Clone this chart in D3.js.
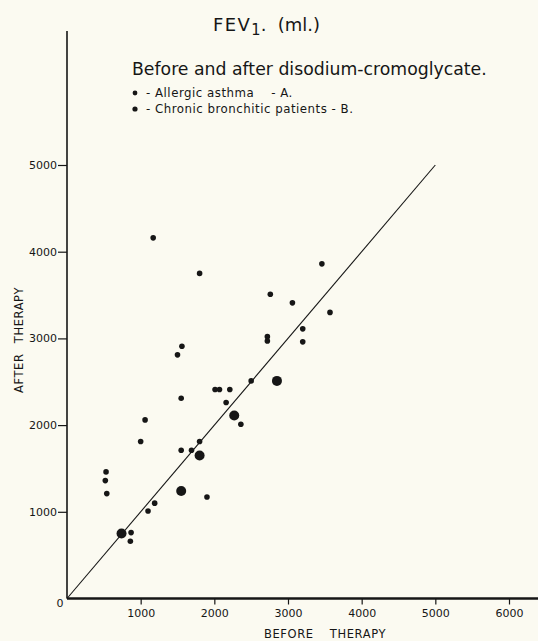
<!DOCTYPE html>
<html>
<head>
<meta charset="utf-8">
<script src="https://cdn.jsdelivr.net/npm/d3@7"></script>
<style>
  html, body { margin: 0; padding: 0; background: #fbfaf1; }
  svg { display: block; }
  text { font-family: "DejaVu Sans", sans-serif; fill: #161616; }
</style>
</head>
<body>
<div id="chart"></div>
<script>
// FEV1 before (x) and after (y) therapy, ml
const allergicAsthma = [
  [1170, 4160], [1800, 3750], [3460, 3860], [2760, 3510], [3060, 3410],
  [3570, 3300], [3200, 3110], [3200, 2960], [2720, 3020], [2720, 2970],
  [1560, 2910], [1500, 2810], [2500, 2510], [2010, 2410], [2070, 2410],
  [2210, 2410], [1550, 2310], [2160, 2260], [2360, 2010], [1060, 2060],
  [1000, 1810], [1800, 1810], [1550, 1710], [1690, 1710], [530, 1460],
  [520, 1360], [540, 1210], [1900, 1170], [1190, 1100], [1100, 1010],
  [870, 760], [860, 660]
];
const chronicBronchitic = [
  [2850, 2510], [2270, 2110], [1800, 1650], [1550, 1240], [740, 750]
];
const identityLine = [[0, 0], [5000, 5000]];
const xTicks = [1000, 2000, 3000, 4000, 5000, 6000];
const yTicks = [1000, 2000, 3000, 4000, 5000];
const legendItems = ["- Allergic asthma    - A.", "- Chronic bronchitic patients - B."];

const width = 538;
const height = 641;
const ink = "#161616";

const svg = d3.select("#chart")
  .append("svg")
  .attr("width", width)
  .attr("height", height);

const x = d3.scaleLinear().domain([0, 6000]).range([67, 509]);
const y = d3.scaleLinear().domain([0, 5000]).range([598.5, 165]);

// axes
const xAxis = svg.append("g")
  .attr("transform", `translate(0,${y(0)})`)
  .call(d3.axisBottom(x).tickValues(xTicks).tickSize(6).tickPadding(5).tickFormat(d3.format("d")));
xAxis.select(".domain").remove();
xAxis.selectAll(".tick line").attr("stroke", ink).attr("stroke-width", 1.2);
xAxis.selectAll(".tick text").attr("font-size", 11).attr("fill", ink);

const yAxis = svg.append("g")
  .attr("transform", `translate(${x(0)},0)`)
  .call(d3.axisLeft(y).tickValues(yTicks).tickSize(9).tickPadding(1).tickFormat(d3.format("d")));
yAxis.select(".domain").remove();
yAxis.selectAll(".tick line").attr("stroke", ink).attr("stroke-width", 1.2);
yAxis.selectAll(".tick text").attr("font-size", 11).attr("fill", ink);

svg.append("line")
  .attr("x1", x(0)).attr("x2", width)
  .attr("y1", y(0)).attr("y2", y(0))
  .attr("stroke", ink).attr("stroke-width", 2.4);

svg.append("line")
  .attr("x1", x(0)).attr("x2", x(0))
  .attr("y1", y(0)).attr("y2", 31)
  .attr("stroke", ink).attr("stroke-width", 1.6);

svg.append("text")
  .attr("x", x(0) - 7).attr("y", y(0) + 8)
  .attr("font-size", 11).attr("text-anchor", "middle")
  .text("0");

// axis titles
svg.append("text")
  .attr("x", 325).attr("y", 638)
  .attr("font-size", 11.5).attr("text-anchor", "middle")
  .attr("letter-spacing", 0.6)
  .attr("word-spacing", 12)
  .text("BEFORE THERAPY");

svg.append("text")
  .attr("transform", "translate(23,340) rotate(-90)")
  .attr("font-size", 11.5).attr("text-anchor", "middle")
  .attr("letter-spacing", 0.6)
  .attr("word-spacing", 6)
  .text("AFTER THERAPY");

// line of identity
svg.append("path")
  .datum(identityLine)
  .attr("fill", "none")
  .attr("stroke", ink)
  .attr("stroke-width", 1.1)
  .attr("d", d3.line().x(d => x(d[0])).y(d => y(d[1])));

// points
svg.append("g")
  .selectAll()
  .data(allergicAsthma)
  .join("circle")
  .attr("cx", d => x(d[0]))
  .attr("cy", d => y(d[1]))
  .attr("r", 2.8)
  .attr("fill", ink);

svg.append("g")
  .selectAll()
  .data(chronicBronchitic)
  .join("circle")
  .attr("cx", d => x(d[0]))
  .attr("cy", d => y(d[1]))
  .attr("r", 5)
  .attr("fill", ink);

// title
const title = svg.append("text")
  .attr("x", 213).attr("y", 31)
  .attr("font-size", 18.5)
  .attr("textLength", 107)
  .attr("lengthAdjust", "spacingAndGlyphs")
  .style("white-space", "pre");
title.append("tspan").attr("letter-spacing", 1.5).text("FEV");
title.append("tspan").attr("font-size", 15).attr("dy", 4).text("1");
title.append("tspan").attr("dy", -4).attr("font-size", 18.5).text(".  (ml.)");

svg.append("text")
  .attr("x", 132).attr("y", 75)
  .attr("font-size", 17.3)
  .text("Before and after disodium-cromoglycate.");

// legend
const legend = svg.append("g")
  .selectAll()
  .data(legendItems)
  .join("g")
  .attr("transform", (d, i) => `translate(135,${97 + i * 16})`);

legend.append("circle")
  .attr("cy", -4)
  .attr("r", (d, i) => i === 0 ? 2.4 : 2.6)
  .attr("fill", ink);

legend.append("text")
  .attr("x", 11)
  .attr("font-size", 11.8)
  .attr("letter-spacing", 0.5)
  .style("white-space", "pre")
  .text(d => d);
</script>
</body>
</html>
